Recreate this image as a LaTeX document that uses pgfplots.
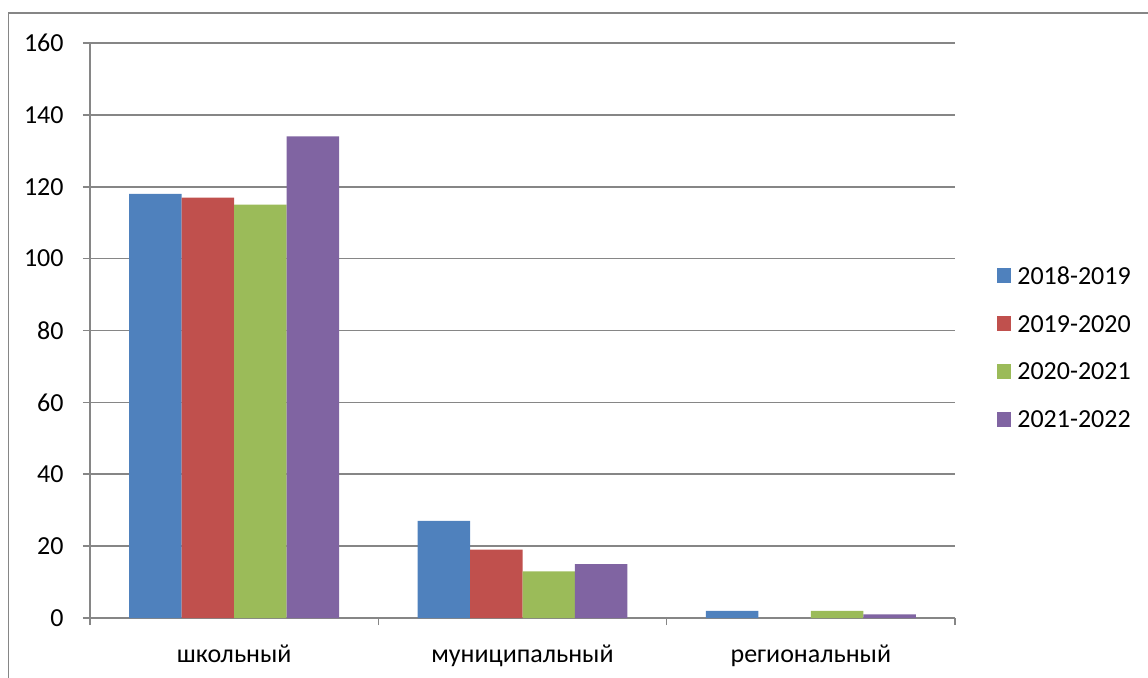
\documentclass[border=0pt]{standalone}
\usepackage{pgfplots}
\pgfplotsset{compat=1.18}
\usepackage{fontspec}
\setmainfont{Carlito}
\definecolor{c1}{HTML}{4F81BD}
\definecolor{c2}{HTML}{C0504D}
\definecolor{c3}{HTML}{9BBB59}
\definecolor{c4}{HTML}{8064A2}
\definecolor{gridc}{HTML}{868686}
\begin{document}
\begin{tikzpicture}
\useasboundingbox (0,0) rectangle (574pt,338.5pt);
\draw[gridc, line width=0.8pt] (4.25pt,-20pt) -- (4.25pt,332pt) -- (620pt,332pt);
\begin{axis}[
  at={(45pt,29.5pt)}, anchor=south west,
  scale only axis, width=432.5pt, height=287.5pt,
  font=\fontsize{13pt}{15.6pt}\selectfont,
  /pgf/number format/assume math mode=true,
  xmin=-0.5, xmax=2.5, ymin=0, ymax=160,
  axis x line*=bottom, axis y line*=left,
  axis line style={gridc, line width=0.8pt, -},
  ytick={0,20,...,160},
  ymajorgrids, grid style={gridc, line width=0.8pt},
  tick align=outside, major tick length=3.5pt,
  tick style={gridc, line width=0.8pt},
  xtick={-0.5,0.5,1.5,2.5}, xticklabels={},
  extra x ticks={0,1,2},
  extra x tick labels={школьный,муниципальный,региональный},
  extra x tick style={major tick length=0pt, grid=none,
     xticklabel style={anchor=base, inner sep=0pt, yshift=-22.2pt}},
  yticklabel style={anchor=east, inner sep=0pt, xshift=-9.5pt},
  ybar=0pt, bar width=0.182,
  legend style={draw=none, at={(1.0486,0.471)}, anchor=west, inner sep=0pt,
     row sep=15.5pt, font=\fontsize{13pt}{15.6pt}\selectfont,
     nodes={inner sep=0pt, text depth=0pt}},
  legend cell align=left,
  legend image code/.code={\fill[#1] (0pt,-3.6pt) rectangle (7pt,3.6pt);},
]
\addplot[fill=c1, draw=none, bar shift=-0.273] coordinates {(0,118) (1,27) (2,2)};
\addplot[fill=c2, draw=none, bar shift=-0.091] coordinates {(0,117) (1,19)};
\addplot[fill=c3, draw=none, bar shift=0.091] coordinates {(0,115) (1,13) (2,2)};
\addplot[fill=c4, draw=none, bar shift=0.273] coordinates {(0,134) (1,15) (2,1)};
\legend{\ 2018-2019,\ 2019-2020,\ 2020-2021,\ 2021-2022}
\end{axis}
\end{tikzpicture}
\end{document}
